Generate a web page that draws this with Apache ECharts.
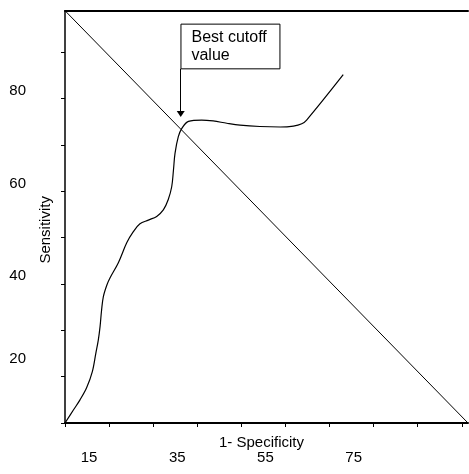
<!DOCTYPE html>
<html>
<head>
<meta charset="utf-8">
<script src="https://cdn.jsdelivr.net/npm/echarts@6/dist/echarts.min.js"></script>
<style>html,body{margin:0;padding:0;background:#fff}#c{width:469px;height:474px}</style>
</head>
<body>
<div id="c"></div>
<script>
// Axis ranges and ticks
var xRange = [5, 96.4];
var yRange = [10, 99];
var xTickValues = [5, 15, 25, 35, 45, 55, 65, 75, 85, 95];
var xLabelValues = [15, 35, 55, 75];
var yTickValues = [10, 20, 30, 40, 50, 60, 70, 80, 90];
var yLabelValues = [20, 40, 60, 80];

// ROC curve: [1-specificity, sensitivity]
var rocX = [5, 6.9, 8.4, 9.9, 11.2, 12.0, 12.55, 12.95, 13.3, 13.7, 14.5, 15.2, 17.1, 19.0, 20.5, 22.0, 23.9, 25.8, 27.3, 28.4, 29.2, 29.6, 29.95, 30.7, 31.5, 33.0, 36.0, 38.6, 41.7, 44.7, 49.2, 53.8, 56.8, 58.7, 59.8, 68.1];
var rocY = [10, 12.8, 15.0, 17.6, 21.1, 25.1, 27.9, 30.8, 34.4, 37.3, 39.8, 41.3, 44.6, 48.9, 51.3, 53.0, 53.8, 54.6, 56.0, 58.2, 61.0, 64.6, 68.2, 71.8, 73.6, 75.1, 75.4, 75.2, 74.7, 74.3, 74.0, 73.9, 74.1, 74.6, 75.4, 85.2];

// Annotation
var noteText = 'Best cutoff\nvalue';
var noteBox = [[31.3, 96.1], [53.75, 86.45]];
var arrowX = 31.25;
var arrowY = [86.45, 76.7];

var rocData = rocX.map(function (x, i) { return [x, rocY[i]]; });
var diagData = [[xRange[0], yRange[1]], [xRange[1], yRange[0]]];

var font = 'Liberation Sans, Arial, sans-serif';
var chart = echarts.init(document.getElementById('c'));
chart.setOption({
  backgroundColor: '#fff',
  animation: false,
  grid: { left: 65, top: 10.7, right: 1, bottom: 51, containLabel: false, outerBoundsMode: 'none' },
  xAxis: [{
    type: 'value', position: 'bottom', min: xRange[0], max: xRange[1],
    name: '1- Specificity', nameLocation: 'middle', nameGap: 12, nameMoveOverlap: false,
    nameTextStyle: { color: '#000', fontSize: 15, fontFamily: font, padding: [0, 10, 0, 0] },
    axisLine: { show: true, onZero: false, lineStyle: { color: '#000', width: 2 } },
    axisTick: { show: true, length: 4, customValues: xTickValues, lineStyle: { color: '#000', width: 1 } },
    axisLabel: { show: true, customValues: xLabelValues, margin: 27, color: '#000', fontSize: 15, fontFamily: font, padding: [0, 40, 0, 0] },
    splitLine: { show: false }
  }, {
    type: 'value', position: 'top', min: xRange[0], max: xRange[1],
    axisLine: { show: true, onZero: false, lineStyle: { color: '#000', width: 2 } },
    axisTick: { show: false }, axisLabel: { show: false }, splitLine: { show: false }
  }],
  yAxis: {
    type: 'value', min: yRange[0], max: yRange[1],
    name: 'Sensitivity', nameLocation: 'middle', nameGap: 12, nameRotate: 90, nameMoveOverlap: false,
    nameTextStyle: { color: '#000', fontSize: 15, fontFamily: font, padding: [0, 26, 0, 0] },
    axisLine: { show: true, onZero: false, lineStyle: { color: '#000', width: 1.5 } },
    axisTick: { show: true, length: 4, customValues: yTickValues, lineStyle: { color: '#000', width: 1 } },
    axisLabel: {
      show: true, customValues: yLabelValues, margin: 39, color: '#000', fontSize: 15, fontFamily: font,
      verticalAlign: 'bottom',
      formatter: function (v) { return v === 20 ? '{lo|' + v + '}' : '{hi|' + v + '}'; },
      rich: {
        lo: { fontSize: 15, fontFamily: font, color: '#000', lineHeight: 36 },
        hi: { fontSize: 15, fontFamily: font, color: '#000', lineHeight: 16 }
      }
    },
    splitLine: { show: false }
  },
  series: [{
    type: 'line', data: diagData, symbol: 'none',
    lineStyle: { color: '#000', width: 1 }, silent: true
  }, {
    type: 'line', data: rocData, symbol: 'none', smooth: 0.35,
    lineStyle: { color: '#000', width: 1.2 },
    markArea: {
      silent: true,
      itemStyle: { color: '#fff', borderColor: '#000', borderWidth: 1 },
      label: { show: true, position: 'insideLeft', distance: 11, color: '#000', fontSize: 16, fontFamily: font, lineHeight: 18 },
      data: [[{ coord: noteBox[0], name: noteText }, { coord: noteBox[1] }]]
    },
    markLine: {
      silent: true, symbol: ['none', 'triangle'], symbolSize: [8, 6],
      label: { show: false },
      lineStyle: { color: '#000', width: 1, type: 'solid' },
      data: [[{ coord: [arrowX, arrowY[0]] }, { coord: [arrowX, arrowY[1]] }]]
    }
  }]
});
</script>
</body>
</html>
